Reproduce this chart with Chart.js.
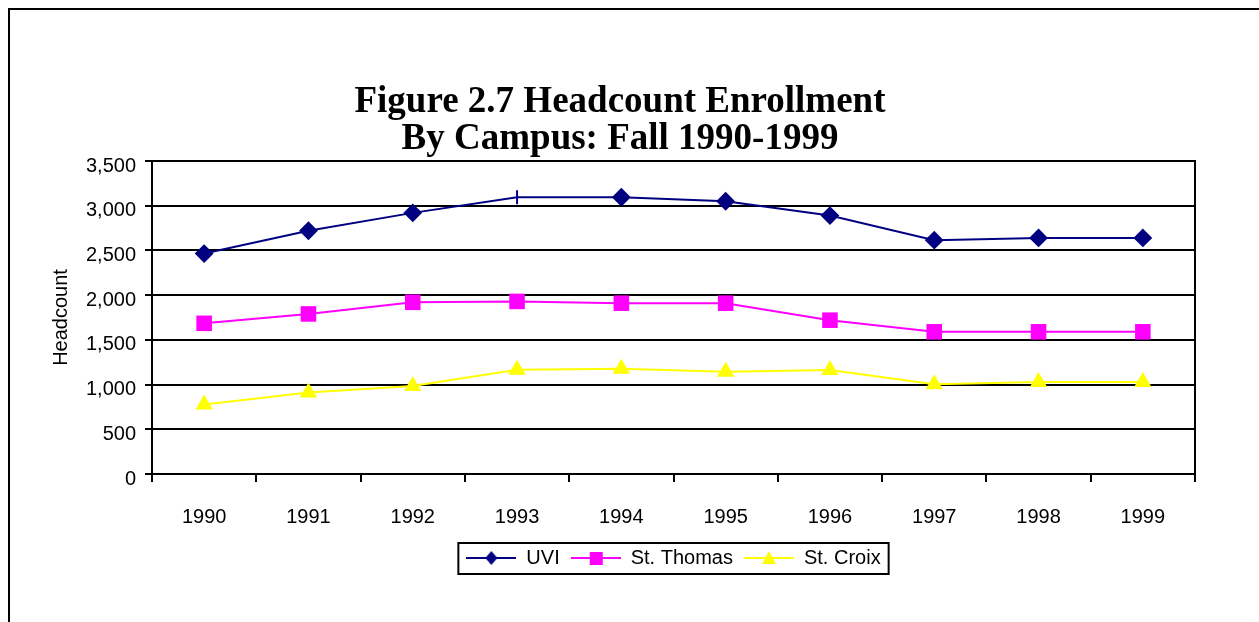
<!DOCTYPE html>
<html>
<head>
<meta charset="utf-8">
<script src="https://cdn.jsdelivr.net/npm/chart.js@4.4.1/dist/chart.umd.min.js"></script>
<style>
  html, body { margin: 0; padding: 0; background: #fff; overflow: hidden; }
  #frame { position: absolute; left: 8px; top: 8px; width: 1400px; height: 800px; border: 2px solid #000; }
  #enrollChart { position: absolute; left: 0; top: 0; }
</style>
</head>
<body>
<div id="frame"></div>
<canvas id="enrollChart" width="1259" height="622"></canvas>
<script>
// values
const years = ['1990', '1991', '1992', '1993', '1994', '1995', '1996', '1997', '1998', '1999'];
const uviHeadcount = [2465, 2720, 2920, 3095, 3095, 3050, 2890, 2615, 2640, 2640];
const stThomasHeadcount = [1685, 1790, 1920, 1930, 1910, 1910, 1720, 1590, 1590, 1590];
const stCroixHeadcount = [778, 912, 985, 1165, 1177, 1143, 1163, 1004, 1030, 1030];
const titleLines = ['Figure 2.7 Headcount Enrollment', 'By Campus: Fall 1990-1999'];

Chart.defaults.font.family = '"Liberation Sans", Arial, sans-serif';
Chart.defaults.color = '#000';

// small line + marker sample used as legend symbol
function legendIcon(color, shape) {
  const c = document.createElement('canvas');
  c.width = 50;
  c.height = 20;
  const g = c.getContext('2d');
  g.strokeStyle = color;
  g.lineWidth = 2;
  g.beginPath();
  g.moveTo(0, 10);
  g.lineTo(50, 10);
  g.stroke();
  g.fillStyle = color;
  g.beginPath();
  if (shape === 'diamond') {
    g.moveTo(25, 3); g.lineTo(31, 10); g.lineTo(25, 17); g.lineTo(19, 10);
  } else if (shape === 'square') {
    g.rect(19, 4, 13, 13);
  } else {
    g.moveTo(25, 3); g.lineTo(32, 16); g.lineTo(18, 16);
  }
  g.closePath();
  g.fill();
  return c;
}

const icons = [
  legendIcon('#000080', 'diamond'),
  legendIcon('#FF00FF', 'square'),
  legendIcon('#FFFF00', 'triangle')
];

const chartFrame = {
  id: 'chartFrame',
  afterDraw(chart) {
    const { ctx, chartArea, legend } = chart;
    ctx.save();
    ctx.strokeStyle = '#000';
    ctx.lineWidth = 2;
    ctx.beginPath();
    ctx.moveTo(chartArea.right, chartArea.top - 1);
    ctx.lineTo(chartArea.right, chartArea.bottom + 8);
    ctx.stroke();

    const boxes = legend.legendHitBoxes;
    if (boxes && boxes.length) {
      const first = boxes[0];
      const last = boxes[boxes.length - 1];
      const left = first.left - 8;
      const right = last.left + last.width + 8;
      const top = first.top - 5;
      const bottom = first.top + first.height + 6;
      ctx.strokeRect(left, top, right - left, bottom - top);
    }
    ctx.restore();
  }
};

const axisFont = { family: '"Liberation Sans", Arial, sans-serif', size: 20 };

new Chart(document.getElementById('enrollChart'), {
  type: 'line',
  data: {
    labels: years,
    datasets: [
      {
        label: 'UVI',
        data: uviHeadcount,
        borderColor: '#000080',
        backgroundColor: '#000080',
        borderWidth: 2,
        pointStyle: ctx => ctx.dataIndex === 3 ? 'line' : 'rectRot',
        pointRotation: ctx => ctx.dataIndex === 3 ? 90 : 0,
        pointRadius: ctx => ctx.dataIndex === 3 ? 7 : 8,
        pointBorderWidth: 2
      },
      {
        label: 'St. Thomas',
        data: stThomasHeadcount,
        borderColor: '#FF00FF',
        backgroundColor: '#FF00FF',
        borderWidth: 2,
        pointStyle: 'rect',
        pointRadius: 11,
        pointBorderWidth: 0
      },
      {
        label: 'St. Croix',
        data: stCroixHeadcount,
        borderColor: '#FFFF00',
        backgroundColor: '#FFFF00',
        borderWidth: 2,
        pointStyle: 'triangle',
        pointRadius: 10,
        pointBorderWidth: 0
      }
    ]
  },
  options: {
    responsive: false,
    devicePixelRatio: 1,
    animation: false,
    layout: {
      padding: { top: 60, left: 45, right: 64, bottom: 44 }
    },
    plugins: {
      title: {
        display: true,
        text: titleLines,
        color: '#000',
        font: { family: '"Liberation Serif", "Times New Roman", serif', size: 37, weight: 'bold', lineHeight: 1.0 },
        padding: { top: 24, bottom: 3 }
      },
      legend: {
        position: 'bottom',
        fullSize: false,
        labels: {
          usePointStyle: true,
          pointStyleWidth: 50,
          padding: 11,
          font: axisFont,
          generateLabels: chart => chart.data.datasets.map((ds, i) => ({
            text: ds.label,
            pointStyle: icons[i],
            fontColor: '#000',
            lineWidth: 0,
            strokeStyle: ds.borderColor,
            fillStyle: ds.backgroundColor,
            hidden: false,
            datasetIndex: i
          }))
        }
      },
      tooltip: { enabled: false }
    },
    scales: {
      x: {
        offset: true,
        grid: { offset: true, drawOnChartArea: false, tickLength: 8, color: '#000', lineWidth: 2 },
        border: { color: '#000', width: 2 },
        ticks: { font: axisFont, color: '#000', padding: 23, maxRotation: 0, autoSkip: false },
        afterFit(scale) { scale.height = 63; }
      },
      y: {
        min: 0,
        max: 3500,
        ticks: {
          stepSize: 500,
          padding: 9,
          labelOffset: 5,
          font: axisFont,
          color: '#000',
          callback: v => v.toLocaleString('en-US')
        },
        grid: { color: '#000', lineWidth: 2, tickLength: 7 },
        border: { color: '#000', width: 2 },
        title: { display: true, text: 'Headcount', font: axisFont, color: '#000', padding: { top: 4, bottom: 0 } },
        afterFit(scale) { scale.width = 107; }
      }
    }
  },
  plugins: [chartFrame]
});
</script>
</body>
</html>
